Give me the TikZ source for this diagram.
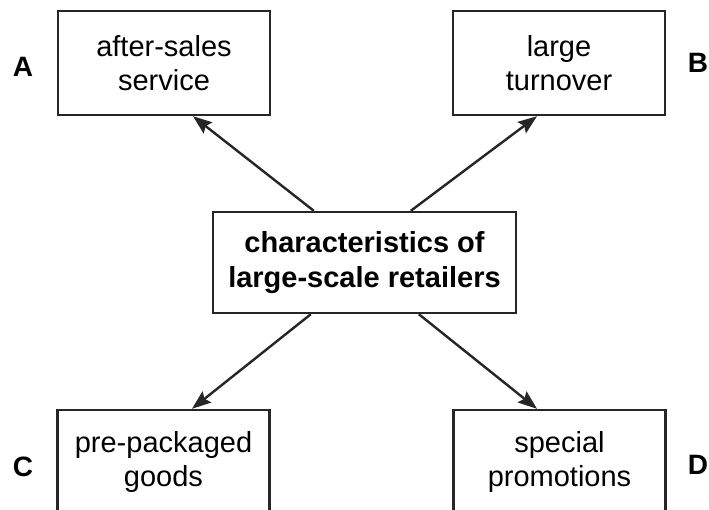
\documentclass[tikz,border=0pt]{standalone}
\usepackage{fontspec}
\setmainfont{Liberation Sans}
\usetikzlibrary{arrows.meta}
\begin{document}
\begin{tikzpicture}[x=1pt,y=-1pt,
  box/.style={draw=black!85, line width=2.4pt, align=center, inner sep=0pt,
    minimum width=212pt, minimum height=104pt, font=\fontsize{29}{34}\selectfont},
  centerbox/.style={draw=black!85, line width=2.4pt, align=center, inner sep=0pt,
    minimum width=303pt, minimum height=101pt, font=\bfseries\fontsize{29}{35}\selectfont},
  letter/.style={font=\bfseries\fontsize{28}{32}\selectfont},
  arr/.style={draw=black!85, line width=2.4pt, -{Stealth[length=19pt,width=14pt,inset=3pt]}}
]
\useasboundingbox (0,0) rectangle (709,510);
\clip (0,0) rectangle (709,510);
\node[box] (A) at (164,63) {after-sales\\service};
\node[box] (B) at (559,63) {large\\turnover};
\node[centerbox] (M) at (364.5,262.5) {characteristics of\\large-scale retailers};
\node[box] (C) at (163.5,462) {pre-packaged\\goods};
\node[box] (D) at (559.5,462) {special\\promotions};
\node[letter] (la) at (23,67) {A};
\node[letter] (lb) at (698,63) {B};
\node[letter] (lc) at (23,467) {C};
\node[letter] (ld) at (698,465) {D};
\coordinate (mtl) at ([xshift=102pt]M.north west);
\coordinate (mtr) at ([xshift=199pt]M.north west);
\coordinate (mbl) at ([xshift=99pt]M.south west);
\coordinate (mbr) at ([xshift=207pt]M.south west);
\draw[arr] (mtl) -- ([xshift=29pt]A.south);
\draw[arr] (mtr) -- ([xshift=-22pt]B.south);
\draw[arr] (mbl) -- ([xshift=28.5pt]C.north);
\draw[arr] (mbr) -- ([xshift=-22.5pt]D.north);
\end{tikzpicture}
\end{document}
